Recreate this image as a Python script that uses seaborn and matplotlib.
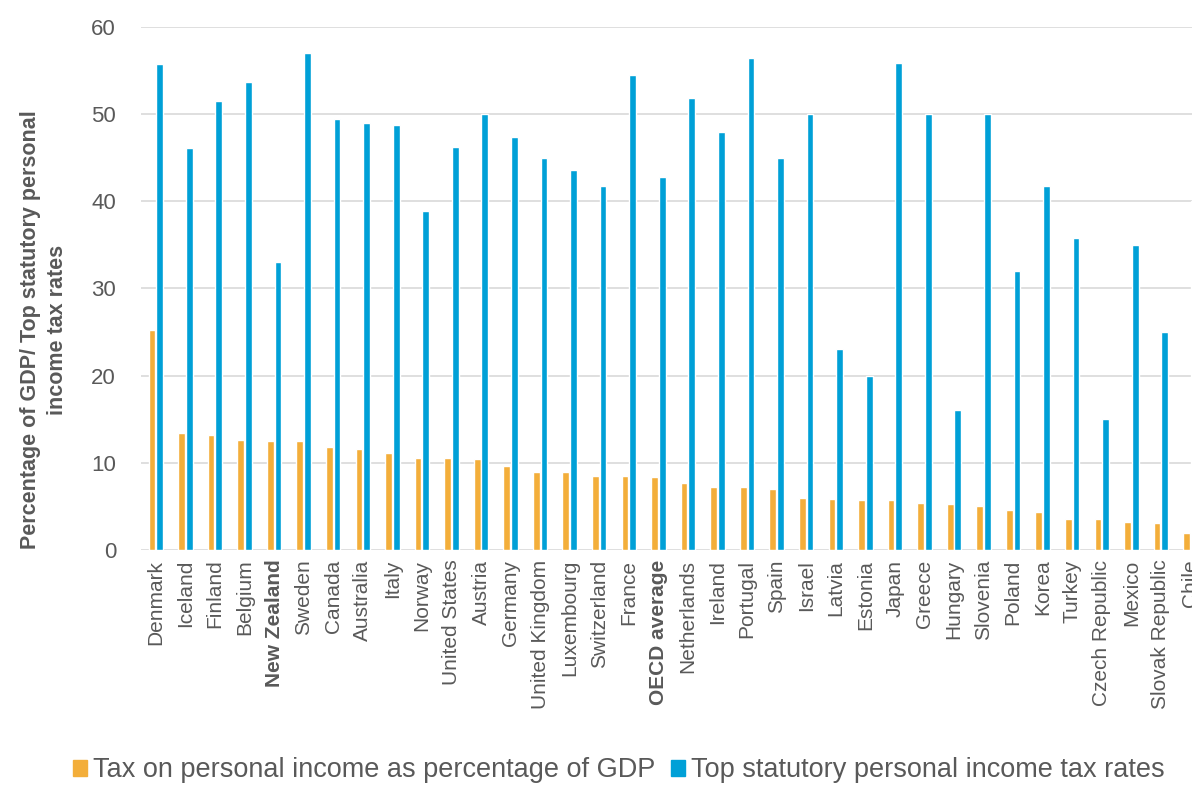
import pandas as pd
import seaborn as sns
import matplotlib
matplotlib.use('Agg')
import matplotlib.pyplot as plt
from matplotlib.patches import Patch

# Data
countries = [
    "Denmark", "Iceland", "Finland", "Belgium", "New Zealand", "Sweden",
    "Canada", "Australia", "Italy", "Norway", "United States", "Austria",
    "Germany", "United Kingdom", "Luxembourg", "Switzerland", "France",
    "OECD average", "Netherlands", "Ireland", "Portugal", "Spain", "Israel",
    "Latvia", "Estonia", "Japan", "Greece", "Hungary", "Slovenia", "Poland",
    "Korea", "Turkey", "Czech Republic", "Mexico", "Slovak Republic", "Chile",
]
tax_gdp = [
    25.2, 13.4, 13.2, 12.6, 12.5, 12.5,
    11.8, 11.6, 11.1, 10.6, 10.6, 10.4,
    9.6, 8.9, 8.9, 8.5, 8.5,
    8.4, 7.7, 7.2, 7.2, 7.0, 6.0,
    5.9, 5.7, 5.7, 5.4, 5.3, 5.0, 4.6,
    4.3, 3.5, 3.5, 3.2, 3.1, 1.9,
]
top_rate = [
    55.8, 46.1, 51.5, 53.7, 33.0, 57.0,
    49.5, 49.0, 48.7, 38.9, 46.2, 50.0,
    47.4, 45.0, 43.6, 41.7, 54.5,
    42.8, 51.9, 48.0, 56.5, 45.0, 50.0,
    23.0, 20.0, 55.9, 50.0, 16.0, 50.0, 32.0,
    41.7, 35.8, 15.0, 35.0, 25.0, 40.0,
]
series_names = [
    "Tax on personal income as percentage of GDP",
    "Top statutory personal income tax rates",
]
bold_labels = ["New Zealand", "OECD average"]

ORANGE = "#F3AE3A"
BLUE = "#00A0D7"
TEXT = "#595959"

df = pd.DataFrame({
    "country": countries * 2,
    "value": tax_gdp + top_rate,
    "series": [series_names[0]] * len(countries) + [series_names[1]] * len(countries),
})

sns.set_theme(style="white")
plt.rcParams['font.family'] = ['Liberation Sans', 'DejaVu Sans']

fig = plt.figure(figsize=(11.92, 7.87), dpi=100)
ax = fig.add_axes([0.1183, 0.3012, 0.8817, 0.6645])

sns.barplot(data=df, x="country", y="value", hue="series",
            palette=[ORANGE, BLUE], width=0.52, gap=0.12,
            order=countries, hue_order=series_names,
            ax=ax, legend=False, saturation=1)

# the original chart is cropped through the Chile group at the right edge
ax.set_ylim(0, 60)
ax.set_xlim(-0.5, 35.05)
ax.set_yticks(range(0, 61, 10))
ax.yaxis.grid(True, color="#D9D9D9", linewidth=1.2)
ax.set_axisbelow(True)
for s in ax.spines.values():
    s.set_visible(False)

ax.set_xlabel("")
ax.set_ylabel("")
ax.tick_params(axis="y", length=0, pad=18, labelsize=16, labelcolor=TEXT)
ax.tick_params(axis="x", length=0, pad=7, labelsize=15, labelcolor=TEXT)
plt.setp(ax.get_xticklabels(), rotation=90, ha="center", va="top")
for lbl in ax.get_xticklabels():
    if lbl.get_text() in bold_labels:
        lbl.set_fontweight("bold")

fig.text(0.037, 0.581, "Percentage of GDP/ Top statutory personal\nincome tax rates",
         rotation=90, ha="center", va="center", fontsize=15.5,
         fontweight="bold", color=TEXT, multialignment="center",
         linespacing=1.4)

handles = [Patch(color=ORANGE), Patch(color=BLUE)]
fig.legend(handles, series_names, loc="center", bbox_to_anchor=(0.519, 0.021),
           ncol=2, frameon=False, fontsize=19.5, handlelength=0.52,
           handleheight=0.52, handletextpad=0.22, columnspacing=0.6,
           labelcolor=TEXT)

fig.savefig("out.png", dpi=100)
